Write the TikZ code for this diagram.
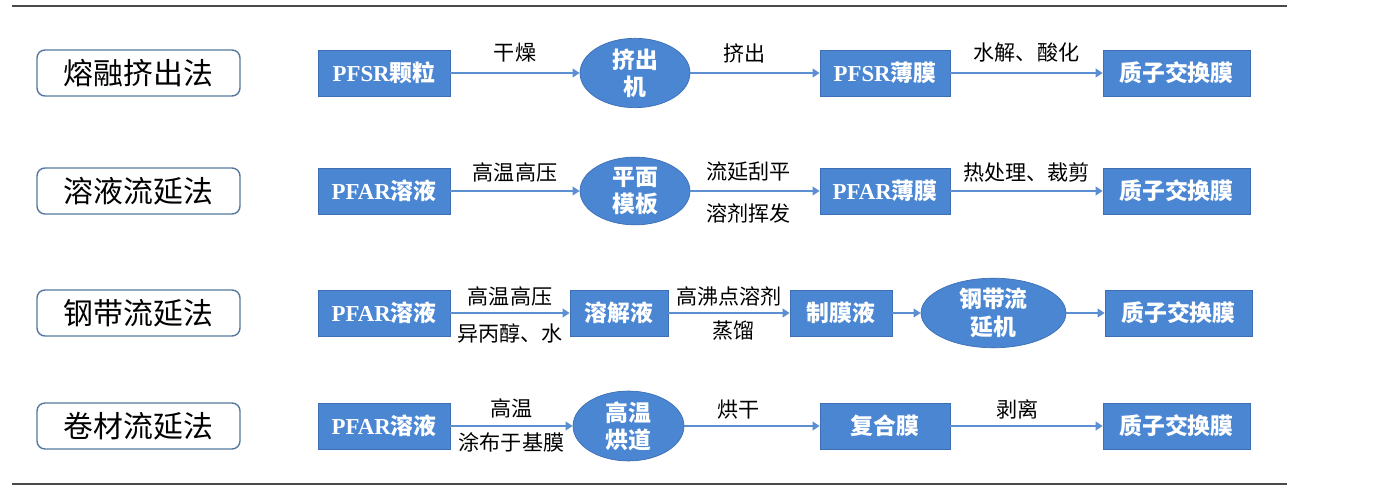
\documentclass[tikz,border=0pt]{standalone}
\usepackage{fontspec}
\setmainfont{Liberation Serif}
\newfontfamily\cjk{Noto Sans CJK SC}
\usetikzlibrary{shapes.geometric}
\usetikzlibrary{arrows.meta}
\definecolor{boxblue}{HTML}{4A86D2}
\definecolor{boxline}{HTML}{3D6FB5}
\definecolor{arrowblue}{HTML}{5B8FD2}
\definecolor{labelline}{HTML}{55789F}
\definecolor{rulegray}{HTML}{4A4A4A}

\begin{document}
\begin{tikzpicture}[
 method/.style={rectangle,rounded corners=0.16cm,draw=labelline,thick,fill=white,minimum width=4.06cm,minimum height=0.92cm,font=\cjk\fontsize{17}{20}\selectfont},
 stepbox/.style={rectangle,draw=boxline,fill=boxblue,text=white,minimum height=0.92cm,inner sep=0pt,font=\bfseries\fontsize{13}{15}\selectfont},
 machine/.style={ellipse,draw=boxline,fill=boxblue,text=white,align=center,inner sep=0pt,font=\cjk\bfseries\fontsize{13}{15.5}\selectfont},
 flow/.style={draw=arrowblue,thick,-{Triangle[width=5pt,length=4pt]}},
 cond/.style={font=\cjk\fontsize{12}{14}\selectfont,text=black,inner sep=1pt}
]
\useasboundingbox (0,0) rectangle (27.68,9.88);
\fill[white] (0,0) rectangle (27.68,9.88);
\draw[rulegray,line width=1.2pt] (0.24,9.76) -- (25.74,9.76);
\draw[rulegray,line width=1.2pt] (0.24,0.2) -- (25.74,0.2);

% melt extrusion
\node[method] (m1) at (2.77,8.42) {熔融挤出法};
\node[stepbox,minimum width=2.64cm] (a1) at (7.68,8.42) {PFSR{\cjk 颗粒}};
\node[machine,minimum width=2.2cm,minimum height=1.24cm] (b1) at (12.7,8.42) {挤出\\机};
\node[stepbox,minimum width=2.6cm] (c1) at (17.7,8.42) {PFSR{\cjk 薄膜}};
\node[stepbox,minimum width=2.94cm] (d1) at (23.53,8.42) {{\cjk 质子交换膜}};
\draw[flow] (a1) -- node[cond,yshift=0.4cm] {干燥} (b1);
\draw[flow] (b1) -- node[cond,pos=0.42,yshift=0.4cm] {挤出} (c1);
\draw[flow] (c1) -- node[cond,yshift=0.4cm] {水解、酸化} (d1);

% solution casting
\node[method] (m2) at (2.77,6.06) {溶液流延法};
\node[stepbox,minimum width=2.64cm] (a2) at (7.68,6.06) {PFAR{\cjk 溶液}};
\node[machine,minimum width=2.2cm,minimum height=1.24cm] (b2) at (12.7,6.06) {平面\\模板};
\node[stepbox,minimum width=2.6cm] (c2) at (17.7,6.06) {PFAR{\cjk 薄膜}};
\node[stepbox,minimum width=2.94cm] (d2) at (23.53,6.06) {{\cjk 质子交换膜}};
\draw[flow] (a2) -- node[cond,yshift=0.38cm] {高温高压} (b2);
\draw[flow] (b2) -- node[cond,pos=0.45,yshift=0.38cm] {流延刮平}
  node[cond,pos=0.45,yshift=-0.44cm] {溶剂挥发} (c2);
\draw[flow] (c2) -- node[cond,yshift=0.38cm] {热处理、裁剪} (d2);

% steel belt casting
\node[method] (m3) at (2.77,3.62) {钢带流延法};
\node[stepbox,minimum width=2.64cm] (a3) at (7.68,3.62) {PFAR{\cjk 溶液}};
\node[stepbox,minimum width=1.96cm] (b3) at (12.38,3.62) {{\cjk 溶解液}};
\node[stepbox,minimum width=2.04cm] (c3) at (16.82,3.62) {{\cjk 制膜液}};
\node[machine,minimum width=2.9cm,minimum height=1.26cm] (e3) at (19.87,3.62) {钢带流\\延机};
\node[stepbox,minimum width=2.94cm] (d3) at (23.57,3.62) {{\cjk 质子交换膜}};
\draw[flow] (a3) -- node[cond,yshift=0.33cm] {高温高压}
  node[cond,yshift=-0.4cm] {异丙醇、水} (b3);
\draw[flow] (b3) -- node[cond,yshift=0.33cm] {高沸点溶剂}
  node[cond,pos=0.54,yshift=-0.36cm] {蒸馏} (c3);
\draw[flow] (c3) -- (e3);
\draw[flow] (e3) -- (d3);

% roll casting
\node[method] (m4) at (2.77,1.36) {卷材流延法};
\node[stepbox,minimum width=2.64cm] (a4) at (7.68,1.36) {PFAR{\cjk 溶液}};
\node[machine,minimum width=2.22cm,minimum height=1.14cm] (b4) at (12.57,1.36) {高温\\烘道};
\node[stepbox,minimum width=2.6cm] (c4) at (17.7,1.36) {{\cjk 复合膜}};
\node[stepbox,minimum width=2.94cm] (d4) at (23.53,1.36) {{\cjk 质子交换膜}};
\draw[flow] (a4) -- node[cond,yshift=0.36cm] {高温}
  node[cond,yshift=-0.33cm] {涂布于基膜} (b4);
\draw[flow] (b4) -- node[cond,pos=0.4,yshift=0.33cm] {烘干} (c4);
\draw[flow] (c4) -- node[cond,pos=0.44,yshift=0.33cm] {剥离} (d4);

\end{tikzpicture}
\end{document}
